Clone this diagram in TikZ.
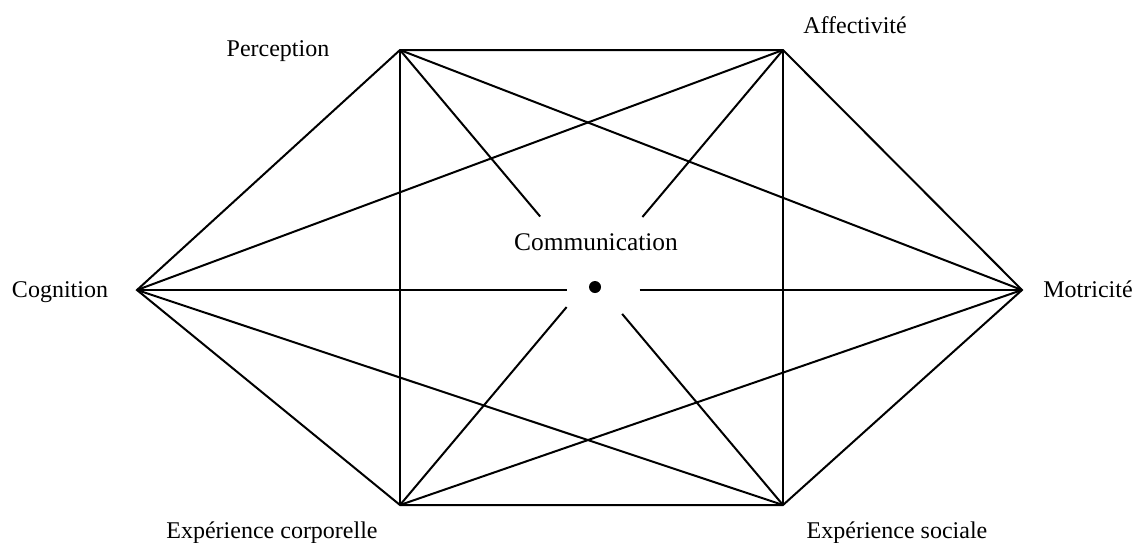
\documentclass[tikz,border=0pt]{standalone}
\usepackage{fontspec}
\setmainfont{Liberation Serif}
\usetikzlibrary{calc}

\begin{document}
\begin{tikzpicture}[
    x=0.5pt, y=-0.5pt,
    edge/.style={line width=1pt, line join=miter},
    label/.style={anchor=base, inner sep=0pt, font=\fontsize{12}{14}\selectfont},
    centre/.style={anchor=base, inner sep=0pt, font=\fontsize{12.7}{15}\selectfont}
]
\useasboundingbox (0,0) rectangle (1135,542);
% vertices of the hexagon
\coordinate (perc) at (400,50);
\coordinate (aff) at (783,50);
\coordinate (cog) at (137,290);
\coordinate (mot) at (1022,290);
\coordinate (corp) at (400,505);
\coordinate (soc) at (783,505);
% labels
\node[label] (lperc) at (278,56) {Perception};
\node[label] (laff) at (855,33) {Affectivité};
\node[label] (lcog) at (60,297) {Cognition};
\node[label] (lmot) at (1088,297) {Motricité};
\node[label] (lcorp) at (272,538) {Expérience corporelle};
\node[label] (lsoc) at (897,538) {Expérience sociale};
\node[centre] (comm) at (596,250) {Communication};
\node[circle, fill, inner sep=0pt, minimum size=6pt] (dot) at (595,287) {};
% ends of the lines around the centre
\coordinate (ps1) at ($(perc)!0.366!(soc)$);
\coordinate (ps2) at ($(perc)!0.58!(soc)$);
\coordinate (ac1) at ($(aff)!0.367!(corp)$);
\coordinate (ac2) at ($(aff)!0.565!(corp)$);
\coordinate (cm1) at ($(cog)!0.486!(mot)$);
\coordinate (cm2) at ($(cog)!0.568!(mot)$);
% outline
\draw[edge] (perc) -- (aff) -- (mot) -- (soc) -- (corp) -- (cog) -- cycle;
\draw[edge] (perc) -- (corp);
\draw[edge] (aff) -- (soc);
% diagonals
\draw[edge] (perc) -- (mot);
\draw[edge] (aff) -- (cog);
\draw[edge] (corp) -- (mot);
\draw[edge] (soc) -- (cog);
% through the centre
\draw[edge] (perc) -- (ps1);
\draw[edge] (ps2) -- (soc);
\draw[edge] (aff) -- (ac1);
\draw[edge] (ac2) -- (corp);
\draw[edge] (cog) -- (cm1);
\draw[edge] (cm2) -- (mot);
\end{tikzpicture}
\end{document}
